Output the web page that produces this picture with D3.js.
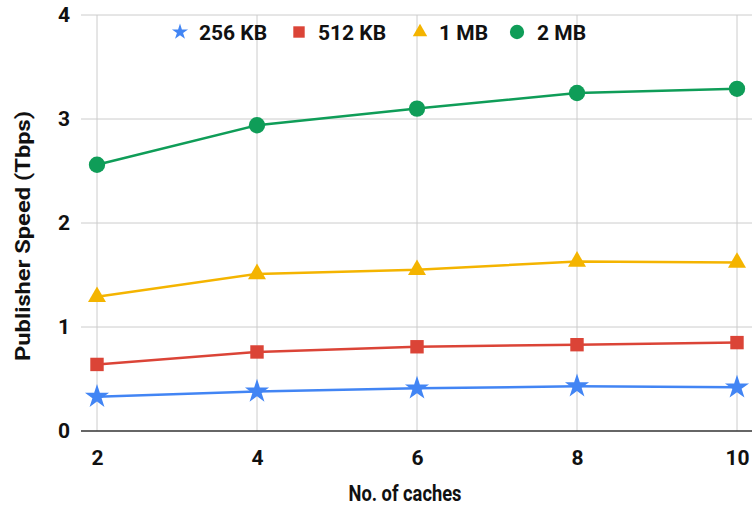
<!DOCTYPE html>
<html><head><meta charset="utf-8">
<script src="https://cdn.jsdelivr.net/npm/d3@7"></script>
<style>body{margin:0;background:#fff}svg{display:block;font-family:Roboto,sans-serif}</style>
</head><body><svg id="c" width="752" height="507"></svg>
<script>
const caches = [2, 4, 6, 8, 10];
const s256 = [0.33, 0.38, 0.41, 0.43, 0.42];
const s512 = [0.64, 0.76, 0.81, 0.83, 0.85];
const s1mb = [1.29, 1.51, 1.55, 1.63, 1.62];
const s2mb = [2.56, 2.94, 3.10, 3.25, 3.29];
const seriesNames = ["256 KB", "512 KB", "1 MB", "2 MB"];
const yTicks = [0, 1, 2, 3, 4];

const series = [
  {name: seriesNames[0], vals: s256, color: "#4285F4", sym: d3.symbolStar, size: 180, lsize: 80},
  {name: seriesNames[1], vals: s512, color: "#DB4437", sym: d3.symbolSquare, size: 180, lsize: 130},
  {name: seriesNames[2], vals: s1mb, color: "#F4B400", sym: d3.symbolTriangle, size: 140, lsize: 90},
  {name: seriesNames[3], vals: s2mb, color: "#0F9D58", sym: d3.symbolCircle, size: 210, lsize: 160}
];

const svg = d3.select("#c");
const x = d3.scaleLinear().domain([2, 10]).range([97, 737]);
const y = d3.scaleLinear().domain([0, 4]).range([431, 15]);
const gridLeft = 81, gridRight = 752;

svg.append("g").selectAll("line").data(yTicks.filter(d => d > 0)).join("line")
  .attr("x1", gridLeft).attr("x2", gridRight)
  .attr("y1", d => y(d)).attr("y2", d => y(d))
  .attr("stroke", "#cccccc").attr("stroke-width", 1);
svg.append("g").selectAll("line").data(caches).join("line")
  .attr("x1", d => x(d)).attr("x2", d => x(d))
  .attr("y1", y(4)).attr("y2", y(0))
  .attr("stroke", "#cccccc").attr("stroke-width", 1);
svg.append("line").attr("x1", gridLeft).attr("x2", gridRight)
  .attr("y1", y(0)).attr("y2", y(0)).attr("stroke", "#333").attr("stroke-width", 1.5);

const yAxis = d3.axisLeft(y).tickValues(yTicks).tickSize(0).tickPadding(0).tickFormat(d3.format("d"));
const yg = svg.append("g").attr("transform", "translate(70,0)").call(yAxis);
yg.select(".domain").remove();
yg.selectAll("text").attr("font-size", 21).attr("font-weight", "bold").attr("fill", "#111").attr("font-family", "Roboto");

const xAxis = d3.axisBottom(x).tickValues(caches).tickSize(0).tickPadding(0).tickFormat(d3.format("d"));
const xg = svg.append("g").attr("transform", "translate(0,450)").call(xAxis);
xg.select(".domain").remove();
xg.selectAll("text").attr("font-size", 21).attr("font-weight", "bold").attr("fill", "#111").attr("font-family", "Roboto");

svg.append("text").attr("x", 405).attr("y", 501).attr("text-anchor", "middle")
  .attr("font-size", 22).attr("font-weight", "bold").attr("fill", "#111")
  .attr("textLength", 113).attr("lengthAdjust", "spacingAndGlyphs").text("No. of caches");
svg.append("text").attr("transform", "translate(30,236) rotate(-90)").attr("text-anchor", "middle")
  .attr("font-size", 20).attr("font-weight", "bold").attr("fill", "#111")
  .attr("textLength", 250).attr("lengthAdjust", "spacingAndGlyphs").text("Publisher Speed (Tbps)");

const line = d3.line().x((d, i) => x(caches[i])).y(d => y(d));
series.forEach(s => {
  svg.append("path").datum(s.vals).attr("d", line).attr("fill", "none")
    .attr("stroke", s.color).attr("stroke-width", 2.5);
  svg.append("g").selectAll("path").data(s.vals).join("path")
    .attr("transform", (d, i) => `translate(${x(caches[i])},${y(d)})`)
    .attr("d", d3.symbol().type(s.sym).size(s.size)).attr("fill", s.color);
});

const legMarkX = [180, 299, 420, 517];
const legTextX = [199, 318, 439, 537];
series.forEach((s, i) => {
  svg.append("path").attr("transform", `translate(${legMarkX[i]},32)`)
    .attr("d", d3.symbol().type(s.sym).size(s.lsize)).attr("fill", s.color);
  svg.append("text").attr("x", legTextX[i]).attr("y", 40).attr("font-size", 21).attr("font-weight", "bold")
    .attr("fill", "#111").text(s.name);
});
</script></body></html>
